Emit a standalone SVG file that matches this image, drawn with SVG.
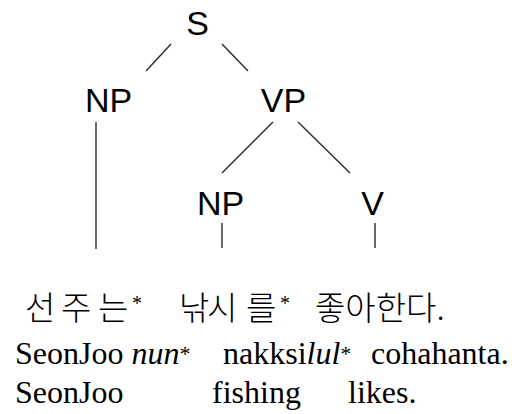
<svg xmlns="http://www.w3.org/2000/svg" width="512" height="414" viewBox="0 0 512 414">
<style>
.lbl{font-family:"Liberation Sans",Arial,sans-serif;font-size:34px;fill:#000;text-anchor:middle}
.ko{font-family:"Noto Sans CJK KR",sans-serif;font-size:33px;font-weight:300;fill:#000}
.rm{font-family:"Liberation Serif","Times New Roman",serif;font-size:32px;fill:#000}
.ast{font-family:"Liberation Serif","Times New Roman",serif;font-size:20px;font-weight:normal}
.sup{font-size:22px}
.edge{stroke:#2a2a2a;stroke-width:1.4;fill:none}
</style>
<rect width="512" height="414" fill="#fff"/>
<g id="connectors">
<line class="edge" x1="171" y1="44" x2="146" y2="71"/>
<line class="edge" x1="222" y1="44" x2="248" y2="71"/>
<line class="edge" x1="96" y1="122" x2="96" y2="249"/>
<line class="edge" x1="273" y1="122" x2="222" y2="173"/>
<line class="edge" x1="298" y1="122" x2="350" y2="173"/>
<line class="edge" x1="222" y1="223" x2="222" y2="248"/>
<line class="edge" x1="375" y1="223" x2="375" y2="248"/>
</g>
<g id="node-S"><text class="lbl" x="197.5" y="35">S</text></g>
<g id="node-NP1"><text class="lbl" x="108.5" y="112">NP</text></g>
<g id="node-VP"><text class="lbl" x="283.5" y="112">VP</text></g>
<g id="node-NP2"><text class="lbl" x="220.5" y="215">NP</text></g>
<g id="node-V"><text class="lbl" x="372.5" y="215">V</text></g>
<g id="leaf-1">
<text class="ko" x="25 61 98" y="320">선주는<tspan class="ast" x="132" y="310">*</tspan></text>
</g>
<g id="leaf-2">
<text class="ko" x="179 207 246" y="320">낚시를<tspan class="ast" x="280" y="310">*</tspan></text>
</g>
<g id="leaf-3">
<text class="ko" x="315" y="320">좋아한다.</text>
</g>
<g id="gloss">
<text class="rm" x="15" y="364">SeonJoo <tspan font-style="italic">nun</tspan><tspan class="sup" dy="-3">*</tspan></text>
<text class="rm" x="223" y="364">nakksi<tspan font-style="italic">lul</tspan><tspan class="sup" dy="-3">*</tspan></text>
<text class="rm" x="371" y="364">cohahanta.</text>
<text class="rm" x="15" y="403">SeonJoo</text>
<text class="rm" x="212" y="403">fishing</text>
<text class="rm" x="348" y="403">likes.</text>
</g>
</svg>
